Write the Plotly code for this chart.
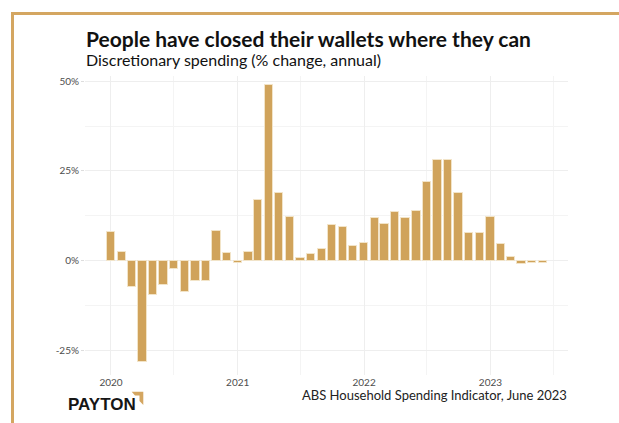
import plotly.graph_objects as go
import pandas as pd

# ---- data ----
months = [d.strftime("%Y-%m-%d") for d in pd.date_range("2020-01-01", periods=42, freq="MS")]
spending_change = [8.1, 2.6, -7.3, -28.1, -9.4, -6.7, -2.1, -8.6, -5.6, -5.6,
                   8.2, 2.3, -0.6, 2.6, 16.9, 48.8, 18.9, 12.2, 0.9, 2.0,
                   3.4, 9.9, 9.4, 4.1, 5.0, 11.9, 10.3, 13.6, 11.9, 13.8,
                   21.9, 28.1, 28.1, 18.8, 7.9, 7.9, 12.2, 4.8, 1.2, -0.9,
                   -0.6, -0.6]
y_tickvals = [-25, 0, 25, 50]
y_ticktext = ["-25%", "0%", "25%", "50%"]

title_text = "People have closed their wallets where they can"
subtitle_text = "Discretionary spending (% change, annual)"
caption_text = "ABS Household Spending Indicator, June 2023"
logo_text = "PAYTON"

GOLD = "#D0A35B"
BORDER = "#D4A661"

# plot area in pixels: x 85..568, y 76..375
L, R, T, B = 85, 568, 76, 375
W, H = 619, 423


def px(x):
    return (x - L) / (R - L)


def py(y):
    return (B - y) / (B - T)


fig = go.Figure()
fig.add_trace(go.Bar(
    x=months, y=spending_change,
    width=24 * 86400000,
    marker=dict(color=GOLD, line=dict(color="#F2E4C8", width=1)),
    hoverinfo="x+y",
))

fig.update_layout(
    width=W, height=H,
    margin=dict(l=L, r=W - R, t=T, b=H - B),
    paper_bgcolor="white", plot_bgcolor="white",
    showlegend=False,
    font=dict(family="Lato", color="#4D4D4D"),
    bargap=0,
)
fig.update_xaxes(
    type="date",
    range=["2019-10-18", "2023-08-13"],
    tickformat="%Y", dtick="M12", tick0="2020-01-01",
    showgrid=True, gridcolor="#EEEEEE", gridwidth=1,
    minor=dict(dtick="M6", tick0="2020-01-01", showgrid=True, gridcolor="#F4F4F4"),
    showline=False, zeroline=False, ticks="",
    tickfont=dict(family="Lato", size=10, color="#4D4D4D"),
)
fig.update_yaxes(
    range=[-31.7, 51.4],
    tickmode="array", tickvals=y_tickvals, ticktext=y_ticktext,
    showgrid=True, gridcolor="#EEEEEE", gridwidth=1,
    minor=dict(dtick=12.5, tick0=0, showgrid=True, gridcolor="#F4F4F4"),
    zeroline=False, showline=False,
    ticks="outside", ticklen=3, tickcolor="#DDDDDD",
    tickfont=dict(family="Lato", size=10, color="#4D4D4D"),
)

annotations = [
    dict(text="<b>" + title_text + "</b>", x=px(84), y=py(38), xanchor="left", yanchor="middle",
         font=dict(family="Lato", size=21, color="#111111")),
    dict(text=subtitle_text, x=px(84), y=py(59), xanchor="left", yanchor="middle",
         font=dict(family="Lato", size=16, color="#111111")),
    dict(text=caption_text, x=px(569), y=py(395), xanchor="right", yanchor="middle",
         font=dict(family="Lato", size=13, color="#222222")),
    dict(text="<b>" + logo_text + "</b>", x=px(65.5), y=py(404), xanchor="left", yanchor="middle",
         font=dict(family="Liberation Sans", size=17, color="#161616")),
]
for a in annotations:
    a.update(xref="paper", yref="paper", showarrow=False)
fig.update_layout(annotations=annotations)

shapes = [
    # frame: top and left
    dict(type="line", x0=px(12.5), x1=px(640), y0=py(13.5), y1=py(13.5),
         line=dict(color=BORDER, width=3)),
    dict(type="line", x0=px(12.5), x1=px(12.5), y0=py(12), y1=py(440),
         line=dict(color=BORDER, width=3)),
    # logo mark
    dict(type="path",
         path=f"M {px(131.7)},{py(391.7)} L {px(143.3)},{py(391.7)} L {px(143.3)},{py(405)} "
              f"L {px(139.5)},{py(401)} L {px(139.5)},{py(395.5)} L {px(135)},{py(395.5)} Z",
         fillcolor=BORDER, line=dict(width=0)),
]
for s in shapes:
    s.update(xref="paper", yref="paper", layer="above")
fig.update_layout(shapes=shapes)

fig.write_html("out.html")
